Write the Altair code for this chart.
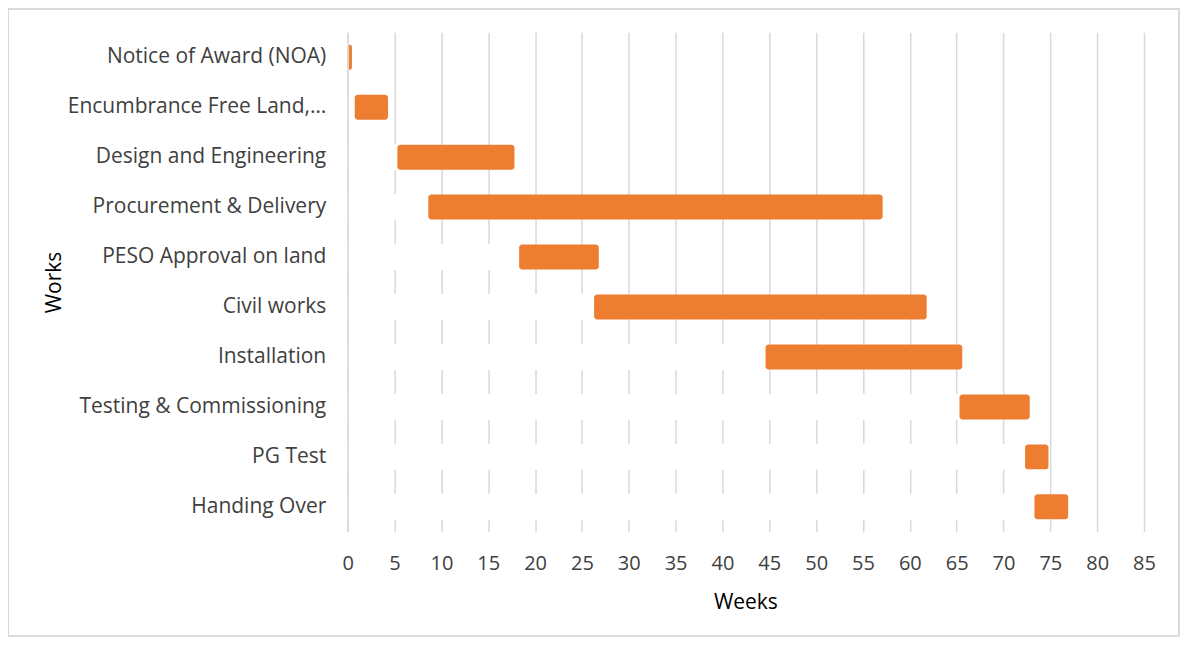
import altair as alt
import pandas as pd

tasks = [
    "Notice of Award (NOA)",
    "Encumbrance Free Land,…",
    "Design and Engineering",
    "Procurement & Delivery",
    "PESO Approval on land",
    "Civil works",
    "Installation",
    "Testing & Commissioning",
    "PG Test",
    "Handing Over",
]
start_week = [0.0, 0.75, 5.3, 8.6, 18.3, 26.3, 44.6, 65.3, 72.3, 73.3]
end_week = [0.45, 4.3, 17.8, 57.1, 26.8, 61.8, 65.6, 72.8, 74.8, 76.9]
x_ticks = list(range(0, 90, 5))

df = pd.DataFrame({"task": tasks, "start": start_week, "end": end_week, "zero": [0] * len(tasks)})

FONT = "Open Sans"
ORANGE = "#ED7D31"

y_enc = alt.Y(
    "task:N",
    sort=tasks,
    scale=alt.Scale(paddingInner=0.5, paddingOuter=0.25),
    axis=alt.Axis(
        title="Works",
        titleFont=FONT,
        titleFontSize=21,
        titleFontWeight="normal",
        titleColor="#000000",
        titleAngle=270,
        titleX=-293,
        titleY=250,
        titleAlign="center",
        titleBaseline="middle",
        labelFont=FONT,
        labelFontSize=21,
        labelColor="#404040",
        labelPadding=22,
        labelLimit=400,
        ticks=False,
        domain=True,
        domainColor="#d9d9d9",
        domainWidth=1.5,
        zindex=1,
        grid=False,
    ),
)

x_scale = alt.Scale(domain=[0, 85], nice=False, zero=True)
x_axis = alt.Axis(
    title="Weeks",
    titleFont=FONT,
    titleFontSize=21,
    titleFontWeight="normal",
    titleColor="#000000",
    titleX=398,
    titleY=71,
    titleAlign="center",
    titleBaseline="middle",
    values=x_ticks,
    labelFont=FONT,
    labelFontSize=20,
    labelColor="#404040",
    labelPadding=22,
    labelFlush=False,
    labelOverlap=False,
    ticks=False,
    domain=False,
    grid=True,
    gridColor="#d9d9d9",
    gridWidth=1.5,
)

white = alt.Chart(df).mark_bar(color="white", stroke="white", strokeWidth=1).encode(
    y=y_enc,
    x=alt.X("zero:Q", scale=x_scale, axis=x_axis),
    x2="start:Q",
)

bars = alt.Chart(df).mark_bar(color=ORANGE, cornerRadius=3).encode(
    y=alt.Y("task:N", sort=tasks),
    x=alt.X("start:Q"),
    x2="end:Q",
)

frame = alt.Chart(df).mark_rect(fillOpacity=0, stroke="#d9d9d9", strokeWidth=1).encode(
    x=alt.value(-339.5), x2=alt.value(832), y=alt.value(-23.5), y2=alt.value(604)
)

chart = (
    alt.layer(white, bars, frame)
    .properties(
        width=797,
        height=500,
        background="white",
        autosize=alt.AutoSizeParams(type="none"),
        padding={"left": 340, "top": 24, "right": 36, "bottom": 105},
    )
    .configure_view(stroke=None, strokeWidth=0)
)

chart.save("out.html", embed_options={"renderer": "svg", "actions": False})
